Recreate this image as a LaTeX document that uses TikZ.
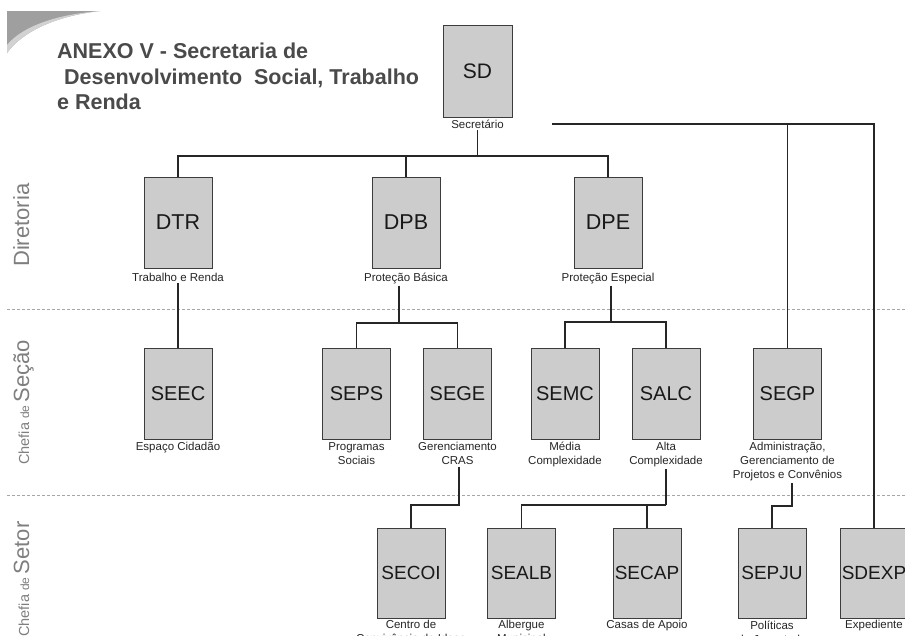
\documentclass[tikz,border=0pt]{standalone}
\usepackage{fontspec}
\setmainfont{Liberation Sans}
\usetikzlibrary{calc}

\definecolor{boxfill}{HTML}{CCCCCC}
\definecolor{boxline}{HTML}{3C3C3C}
\definecolor{titlegray}{HTML}{4A4A4A}
\definecolor{lvlgray}{HTML}{7F7F7F}

\tikzset{
  unit/.style={draw=boxline, fill=boxfill, line width=0.8pt, minimum width=68pt,
    minimum height=91pt, inner sep=0pt, text=black!90, font=\fontsize{20}{24}\selectfont},
  unitlbl/.style={anchor=north, align=center, inner sep=2pt, text=black!85,
    font=\fontsize{11.5}{14}\selectfont},
  link/.style={line width=1.1pt, black!85},
  level/.style={dash pattern=on 3pt off 2pt, line width=0.7pt, gray!70},
  lvltext/.style={text=lvlgray, rotate=90, anchor=base west, inner sep=0pt},
  title/.style={anchor=base west, inner sep=0pt, text=titlegray,
    font=\bfseries\fontsize{21.5}{25}\selectfont},
}

\begin{document}
\begin{tikzpicture}[x=1pt,y=-1pt]
    \useasboundingbox (0,0) rectangle (905,635);
    \clip (0,0) rectangle (905,635);
    \fill[white] (0,0) rectangle (905,635);

    % corner swoosh
    \fill[gray!75] (7,11) -- (100,11) .. controls (55,16) and (22,32) .. (7,53) -- cycle;
    \fill[gray!35] (100,11) .. controls (55,16) and (22,32) .. (7,53) -- (7,45) .. controls (20,29) and (50,15) .. (100,11) -- cycle;

    % title
    \node[title] (t1) at (57,58) {ANEXO V - Secretaria de};
    \node[title] (t2) at (64,84) {Desenvolvimento\ \ Social, Trabalho};
    \node[title] (t3) at (57,109) {e Renda};

    % level separators
    \draw[level] (7,309) -- (905,309);
    \draw[level] (7,495) -- (905,495);
    \node[lvltext, font=\fontsize{22}{24}\selectfont] (lvdir) at (29,267) {Diretoria};
    \node[lvltext] (lvsec) at (29,465) {\fontsize{14.5}{16}\selectfont Chefia \fontsize{12}{14}\selectfont de \fontsize{22}{24}\selectfont Seção};
    \node[lvltext] (lvset) at (29,637) {\fontsize{14.5}{16}\selectfont Chefia \fontsize{12}{14}\selectfont de \fontsize{22}{24}\selectfont Setor};

    % secretario
    \node[unit, minimum width=69pt, minimum height=92pt, font=\fontsize{21}{24}\selectfont] (SD) at (477.5,71) {SD};
    \node[unitlbl] (SD-l) at (SD.south) {Secretário};

    % diretorias
    \foreach \nm/\x/\lbl in {DTR/178/{Trabalho e Renda}, DPB/406/{Proteção Básica}, DPE/608/{Proteção Especial}}{
        \node[unit, font=\fontsize{21.5}{24}\selectfont] (\nm) at (\x,222.5) {\nm};
        \node[unitlbl, yshift=0.5pt] (\nm-l) at (\nm.south) {\rule{0pt}{11pt}\lbl};
    }

    % secoes
    \foreach \nm/\x/\lbl in {SEEC/178/{Espaço Cidadão}, SEPS/356.5/{Programas\\Sociais}, SEGE/457.5/{Gerenciamento\\CRAS},
        SEMC/565/{Média\\Complexidade}, SALC/666/{Alta\\Complexidade}, SEGP/787.5/{Administração,\\Gerenciamento de\\Projetos e Convênios}}{
        \node[unit] (\nm) at (\x,394) {\nm};
        \node[unitlbl] (\nm-l) at (\nm.south) {\lbl};
    }

    % setores
    \foreach \nm/\x/\lbl in {SECOI/411/{Centro de\\Convivência do Idoso}, SEALB/521.5/{Albergue\\Municipal}, SECAP/647/{Casas de Apoio},
        SEPJU/772/{Políticas\\da Juventude}, SDEXP/874/{Expediente}}{
        \node[unit, minimum height=90pt, font=\fontsize{19}{24}\selectfont] (\nm) at (\x,573) {\nm};
        \node[unitlbl] (\nm-l) at (\nm.south) {\lbl};
    }

    % links
    \coordinate (sdbus) at (477.5,156);
    \draw[link] (SD-l.south) -- (sdbus);
    \draw[link] (DTR.north) |- (sdbus) -| (DPE.north);
    \draw[link] (DPB.north) -- (DPB.north |- sdbus);

    \coordinate (sdr) at (552,124);
    \draw[link] (sdr) -| (SDEXP.north);
    \draw[link] (SEGP.north) -- (SEGP.north |- sdr);

    \draw[link] (DTR-l.south) -- (SEEC.north);

    \coordinate (dpbbus) at (399,323);
    \draw[link] (dpbbus |- DPB-l.south) -- (dpbbus);
    \draw[link] (SEPS.north) |- (dpbbus) -| (SEGE.north);

    \coordinate (dpebus) at (611,322);
    \draw[link] (dpebus |- DPE-l.south) -- (dpebus);
    \draw[link] (SEMC.north) |- (dpebus) -| (SALC.north);

    \coordinate (segebus) at (459,505);
    \draw[link] (segebus |- SEGE-l.south) -- (segebus) -| (SECOI.north);

    \coordinate (salcbus) at (666,505);
    \draw[link] (salcbus |- SALC-l.south) -- (salcbus);
    \draw[link] (SEALB.north) |- (salcbus);
    \draw[link] (SECAP.north) -- (SECAP.north |- salcbus);

    \coordinate (segpbus) at (792,506);
    \draw[link] (segpbus |- SEGP-l.south) -- (segpbus) -| (SEPJU.north);
\end{tikzpicture}
\end{document}
